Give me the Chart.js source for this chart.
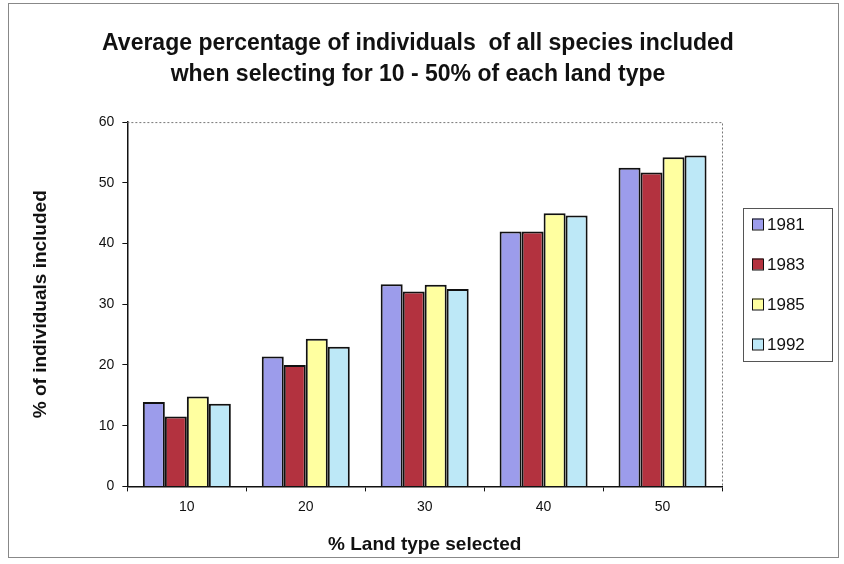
<!DOCTYPE html>
<html>
<head>
<meta charset="utf-8">
<script src="https://cdn.jsdelivr.net/npm/chart.js@4.4.0/dist/chart.umd.min.js"></script>
<style>
  html, body { margin: 0; padding: 0; background: #fff; }
  #wrap { width: 844px; height: 564px; position: relative; }
</style>
</head>
<body>
<div id="wrap"><canvas id="landChart"></canvas></div>
<script>
const categories = ['10', '20', '30', '40', '50'];
const years = ['1981', '1983', '1985', '1992'];
const values1981 = [13.9, 21.4, 33.3, 42.0, 52.5];
const values1983 = [11.5, 20.0, 32.1, 42.0, 51.7];
const values1985 = [14.8, 24.3, 33.2, 45.0, 54.2];
const values1992 = [13.6, 23.0, 32.5, 44.6, 54.5];
const yTicks = [0, 10, 20, 30, 40, 50, 60];

const colors = ['#9C9CEB', '#B3323F', '#FFFFA0', '#BDE8F7'];
const sans = '"Liberation Sans", Arial, sans-serif';

// frame round the picture, dotted plot border, and the boxed legend on the right
const framePlugin = {
    id: 'framePlugin',
    afterDraw(chart) {
        const c = chart.ctx;
        const a = chart.chartArea;
        c.save();
        c.strokeStyle = '#888';
        c.lineWidth = 1;
        c.strokeRect(8.5, 3.5, 830, 554);
        c.setLineDash([2, 2]);
        c.strokeStyle = '#777';
        c.beginPath();
        c.moveTo(a.left, a.top + 0.5);
        c.lineTo(a.right + 0.5, a.top + 0.5);
        c.lineTo(a.right + 0.5, a.bottom);
        c.stroke();
        c.setLineDash([]);

        // legend
        const lx = 743, ly = 208, lw = 89, lh = 153;
        c.strokeStyle = '#555';
        c.strokeRect(lx + 0.5, ly + 0.5, lw, lh);
        c.font = '17px ' + sans;
        c.textBaseline = 'middle';
        chart.data.datasets.forEach(function (ds, i) {
            const cy = 224 + i * 40;
            c.fillStyle = ds.backgroundColor;
            c.fillRect(752, cy - 5.5, 11, 11);
            c.strokeStyle = '#111';
            c.lineWidth = 1;
            c.strokeRect(752.5, cy - 5, 11, 11);
            c.fillStyle = '#111';
            c.fillText(ds.label, 767, cy + 1);
        });
        c.restore();
    }
};

const ctx = document.getElementById('landChart').getContext('2d');
const datasets = [values1981, values1983, values1985, values1992].map(function (vals, i) {
    return {
        label: years[i],
        data: vals,
        backgroundColor: colors[i],
        borderColor: '#111',
        borderWidth: 2
    };
});

const myBarChart = new Chart(ctx, {
    type: 'bar',
    data: { labels: categories, datasets: datasets },
    options: {
        responsive: true,
        maintainAspectRatio: false,
        animation: false,
        datasets: { bar: { categoryPercentage: 0.74, barPercentage: 1 } },
        layout: { padding: { left: 10, top: 12, right: 18, bottom: 4 } },
        plugins: {
            tooltip: { enabled: false },
            legend: { display: false },
            title: {
                display: true,
                text: ['Average percentage of individuals  of all species included',
                       'when selecting for 10 - 50% of each land type'],
                color: '#111',
                font: { family: sans, size: 23, weight: 'bold', lineHeight: 1.35 },
                padding: { top: 16, bottom: 32 }
            }
        },
        scales: {
            x: {
                grid: { display: true, drawOnChartArea: false, drawTicks: true, tickLength: 5, color: '#111', offset: true },
                border: { display: true, color: '#111', width: 1.5 },
                ticks: { color: '#111', font: { family: sans, size: 14 }, padding: 7 },
                title: {
                    display: true,
                    text: '% Land type selected',
                    color: '#111',
                    font: { family: sans, size: 19, weight: 'bold' },
                    padding: { top: 11 }
                }
            },
            y: {
                min: 0,
                max: 60,
                afterBuildTicks: function (axis) {
                    axis.ticks = yTicks.map(function (v) { return { value: v }; });
                },
                grid: { display: true, drawOnChartArea: false, drawTicks: true, tickLength: 5, color: '#111' },
                border: { display: true, color: '#111', width: 1.5 },
                ticks: { color: '#111', font: { family: sans, size: 14 }, padding: 8 },
                title: {
                    display: true,
                    text: '% of individuals included',
                    color: '#111',
                    font: { family: sans, size: 19, weight: 'bold' },
                    padding: { top: 19, bottom: 39 }
                }
            },
            // empty axis that keeps room on the right for the legend
            yRight: {
                position: 'right',
                display: true,
                grid: { display: false },
                border: { display: false },
                ticks: { display: false },
                afterFit: function (axis) { axis.width = 104; }
            }
        }
    },
    plugins: [framePlugin]
});
</script>
</body>
</html>
